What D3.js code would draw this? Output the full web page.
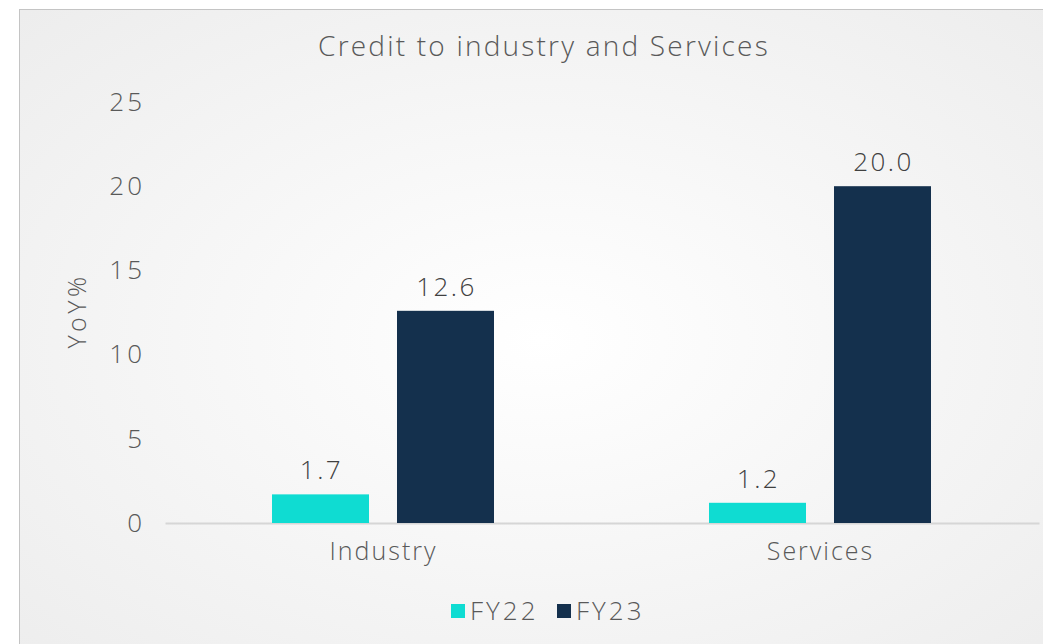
<!DOCTYPE html>
<html>
<head>
<meta charset="utf-8">
<script src="https://cdn.jsdelivr.net/npm/d3@7"></script>
<style>
  body { margin: 0; background: #fff; }
  svg { display: block; font-family: "Open Sans", Lato, sans-serif; font-weight: 300; }
  svg text { letter-spacing: 2px; }
</style>
</head>
<body>
<svg id="chart" width="1043" height="644"></svg>
<script>
// Credit to industry and services, YoY%
const categories = ["Industry", "Services"];
const seriesNames = ["FY22", "FY23"];
const fy22 = [1.7, 1.2];
const fy23 = [12.6, 20.0];
const yTicks = [0, 5, 10, 15, 20, 25];

const colors = {FY22: "#0fdcd2", FY23: "#14304d"};
const textColor = "#595959";
const fontFamily = "'Open Sans', Lato, sans-serif";

const svg = d3.select("#chart");

// background panel with soft radial gradient
const defs = svg.append("defs");
const grad = defs.append("radialGradient")
    .attr("id", "bg")
    .attr("cx", "50%").attr("cy", "50%").attr("r", "70%");
grad.append("stop").attr("offset", "0%").attr("stop-color", "#ffffff");
grad.append("stop").attr("offset", "100%").attr("stop-color", "#ededed");

svg.append("rect")
    .attr("x", 19.5).attr("y", 9.5)
    .attr("width", 1043).attr("height", 660)
    .attr("fill", "url(#bg)")
    .attr("stroke", "#c4c4c4")
    .attr("stroke-width", 1);

const margin = {left: 165, right: 1039, top: 102, bottom: 523};

const x0 = d3.scaleBand()
    .domain(categories)
    .range([margin.left, margin.right]);

const x1 = d3.scaleBand()
    .domain(seriesNames)
    .range([107, 329])
    .paddingInner(0.224);

const y = d3.scaleLinear()
    .domain([0, 25])
    .range([margin.bottom, margin.top]);

// title
svg.append("text")
    .attr("x", 544).attr("y", 56)
    .attr("text-anchor", "middle")
    .attr("fill", textColor)
    .style("font-size", "28px")
    .style("letter-spacing", "2.2px")
    .text("Credit to industry and Services");

// y axis (labels only)
const yAxis = svg.append("g")
    .attr("transform", `translate(145,0)`)
    .call(d3.axisLeft(y).tickValues(yTicks).tickSize(0).tickPadding(0).tickFormat(d3.format("d")));
yAxis.select(".domain").remove();
yAxis.selectAll("text")
    .attr("fill", textColor)
    .style("font-size", "26px")
    .style("letter-spacing", "3px")
    .style("font-family", fontFamily);

svg.append("text")
    .attr("transform", "translate(86,311) rotate(-90)")
    .attr("text-anchor", "middle")
    .attr("fill", textColor)
    .style("font-size", "25px")
    .style("letter-spacing", "3.5px")
    .text("YoY%");

// baseline + category labels
const xAxis = svg.append("g")
    .attr("transform", `translate(0,${margin.bottom})`)
    .call(d3.axisBottom(x0).tickSize(0).tickPadding(19));
xAxis.select(".domain").attr("stroke", "#d6d6d6").attr("stroke-width", 2);
xAxis.selectAll("text")
    .attr("fill", textColor)
    .style("font-size", "25px")
    .style("font-family", fontFamily);

// bars
const rows = categories.map((c, i) => ({cat: c, FY22: fy22[i], FY23: fy23[i]}));

const groups = svg.selectAll("g.cat")
    .data(rows)
    .enter().append("g")
    .attr("class", "cat")
    .attr("transform", d => `translate(${x0(d.cat)},0)`);

const bars = groups.selectAll("g.bar")
    .data(d => seriesNames.map(k => ({key: k, value: d[k]})))
    .enter().append("g").attr("class", "bar");

bars.append("rect")
    .attr("x", d => x1(d.key))
    .attr("y", d => y(d.value))
    .attr("width", x1.bandwidth())
    .attr("height", d => y(0) - y(d.value))
    .attr("fill", d => colors[d.key]);

bars.append("text")
    .attr("x", d => x1(d.key) + x1.bandwidth() / 2 + 1)
    .attr("y", d => y(d.value) - 15)
    .attr("text-anchor", "middle")
    .attr("fill", "#404040")
    .style("font-size", "26px")
    .style("letter-spacing", "2.5px")
    .text(d => d.value.toFixed(1));

// legend
const legendX = [451, 557];
const legend = svg.selectAll("g.legend")
    .data(seriesNames)
    .enter().append("g")
    .attr("class", "legend")
    .attr("transform", (d, i) => `translate(${legendX[i]},604)`);
legend.append("rect")
    .attr("width", 14).attr("height", 14)
    .attr("fill", d => colors[d]);
legend.append("text")
    .attr("x", 19).attr("y", 16)
    .attr("fill", textColor)
    .style("font-size", "26px")
    .style("letter-spacing", "3px")
    .text(d => d);
</script>
</body>
</html>
